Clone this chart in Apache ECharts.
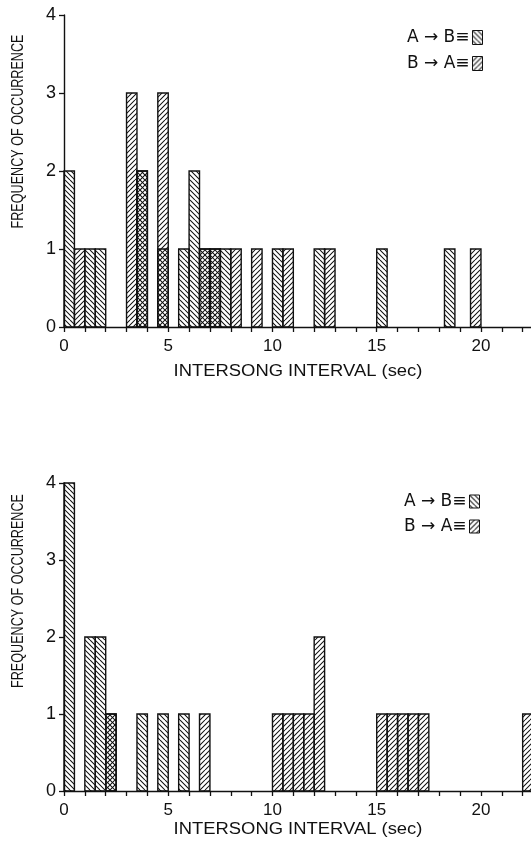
<!DOCTYPE html>
<html>
<head>
<meta charset="utf-8">
<script src="https://cdn.jsdelivr.net/npm/echarts@6/dist/echarts.min.js"></script>
<style>
html,body{margin:0;padding:0;background:#fff;}
#chart{width:531px;height:850px;}
</style>
</head>
<body>
<div id="chart"></div>
<script>
// ---- data (bin start in sec, frequency), bins are 0.5 sec wide ----
const binWidth = 0.5;
const topAB_start = [0, 1, 1.5, 3.5, 4.5, 5.5, 6, 6.5, 7, 7.5, 10, 12, 15, 18.25];
const topAB_count = [2, 1, 1, 2, 1, 1, 2, 1, 1, 1, 1, 1, 1, 1];
const topBA_start = [0.5, 3, 3.5, 4.5, 6.5, 7, 8, 9, 10.5, 12.5, 19.5];
const topBA_count = [1, 3, 2, 3, 1, 1, 1, 1, 1, 1, 1];
const botAB_start = [0, 1, 1.5, 2, 3.5, 4.5, 5.5];
const botAB_count = [4, 2, 2, 1, 1, 1, 1];
const botBA_start = [2, 6.5, 10, 10.5, 11, 11.5, 12, 15, 15.5, 16, 16.5, 17, 22];
const botBA_count = [1, 1, 1, 1, 1, 1, 2, 1, 1, 1, 1, 1, 1];
const xTickLabels = ['0', '5', '10', '15', '20'];
const yTickLabels = ['0', '1', '2', '3', '4'];
const nameAB = 'A \u2192 B\u2261';
const nameBA = 'B \u2192 A\u2261';
const xTitle = 'INTERSONG INTERVAL (sec)';
const yTitle = 'FREQUENCY OF OCCURRENCE';

function hatch(dir) {
  const s = 10, sp = 5;
  const c = document.createElement('canvas');
  c.width = s; c.height = s;
  const g = c.getContext('2d');
  g.strokeStyle = '#111';
  g.lineWidth = 1.05;
  g.beginPath();
  for (let o = -s; o <= s; o += sp) {
    if (dir === 'back') { g.moveTo(o, 0); g.lineTo(o + s, s); }
    else { g.moveTo(o, s); g.lineTo(o + s, 0); }
  }
  g.stroke();
  return c;
}
const patAB = { image: hatch('back'), repeat: 'repeat' };
const patBA = { image: hatch('fwd'), repeat: 'repeat' };

function pairs(st, ct) { return st.map((s, i) => [s, ct[i]]); }

function renderBin(pattern) {
  return function (params, api) {
    const x0 = api.value(0), h = api.value(1);
    const p0 = api.coord([x0, h]);
    const p1 = api.coord([x0 + binWidth, 0]);
    return {
      type: 'rect',
      shape: { x: p0[0], y: p0[1], width: p1[0] - p0[0], height: p1[1] - p0[1] },
      style: { fill: pattern, stroke: '#111', lineWidth: 1.4 }
    };
  };
}

const FONT = '"Liberation Sans", Arial, sans-serif';
const LFONT = '"DejaVu Sans", "Liberation Sans", sans-serif';

function xAxisCfg(idx) {
  return {
    type: 'value', gridIndex: idx, min: 0, max: 22.4, interval: 1,
    axisLine: { show: true, onZero: false, lineStyle: { color: '#111', width: 1.4 } },
    axisTick: { show: true, length: 5, lineStyle: { color: '#111', width: 1.3 } },
    axisLabel: {
      color: '#111', fontSize: 17, fontFamily: FONT, margin: 11, showMaxLabel: false,
      formatter: v => { const k = xTickLabels.indexOf(String(v)); return k >= 0 ? xTickLabels[k] : ''; }
    },
    splitLine: { show: false }
  };
}
function yAxisCfg(idx) {
  return {
    type: 'value', gridIndex: idx, min: 0, max: 4, interval: 1,
    axisLine: { show: true, lineStyle: { color: '#111', width: 1.4 } },
    axisTick: { show: true, length: 5, lineStyle: { color: '#111', width: 1.3 } },
    axisLabel: {
      color: '#111', fontSize: 18, fontFamily: FONT, margin: 8,
      formatter: v => yTickLabels[Math.round(v)]
    },
    splitLine: { show: false }
  };
}

function series(name, data, pattern, idx) {
  return {
    type: 'custom', name: name, xAxisIndex: idx, yAxisIndex: idx,
    data: data, encode: { x: 0, y: 1 },
    itemStyle: { color: pattern, borderColor: '#111', borderWidth: 1 },
    renderItem: renderBin(pattern), animation: false
  };
}

const chart = echarts.init(document.getElementById('chart'), null, { renderer: 'canvas' });
chart.setOption({
  animation: false,
  backgroundColor: '#fff',
  grid: [
    { left: 64, right: 0, top: 15, height: 312 },
    { left: 64, right: 0, top: 483, height: 308 }
  ],
  xAxis: [xAxisCfg(0), xAxisCfg(1)],
  yAxis: [yAxisCfg(0), yAxisCfg(1)],
  legend: [
    { orient: 'vertical', right: 48, top: 29, padding: 0, align: 'right', itemWidth: 10, itemHeight: 14, itemGap: 9,
      icon: 'rect', data: [nameAB, nameBA], selectedMode: false,
      itemStyle: { borderColor: '#111', borderWidth: 1 },
      textStyle: { color: '#111', fontSize: 17, fontFamily: LFONT, padding: [0, -2, 0, 0] } },
    { orient: 'vertical', right: 51, top: 493, padding: 0, align: 'right', itemWidth: 10, itemHeight: 13, itemGap: 8,
      icon: 'rect', data: [nameAB, nameBA], selectedMode: false,
      itemStyle: { borderColor: '#111', borderWidth: 1 },
      textStyle: { color: '#111', fontSize: 17, fontFamily: LFONT, padding: [0, -2, 0, 0] } }
  ],
  graphic: [
    { type: 'text', x: 298, y: 372, scaleX: 1.15, style: { text: xTitle, font: '16px ' + FONT, fill: '#111', align: 'center', verticalAlign: 'middle' } },
    { type: 'text', x: 298, y: 830, scaleX: 1.15, style: { text: xTitle, font: '16px ' + FONT, fill: '#111', align: 'center', verticalAlign: 'middle' } },
    { type: 'text', x: 18.5, y: 131.5, rotation: Math.PI / 2, scaleX: 0.84, scaleY: 1.05, style: { text: yTitle, font: '15px ' + FONT, fill: '#111', align: 'center', verticalAlign: 'middle' } },
    { type: 'text', x: 18.5, y: 591, rotation: Math.PI / 2, scaleX: 0.84, scaleY: 1.05, style: { text: yTitle, font: '15px ' + FONT, fill: '#111', align: 'center', verticalAlign: 'middle' } }
  ],
  series: [
    series(nameAB, pairs(topAB_start, topAB_count), patAB, 0),
    series(nameBA, pairs(topBA_start, topBA_count), patBA, 0),
    series(nameAB, pairs(botAB_start, botAB_count), patAB, 1),
    series(nameBA, pairs(botBA_start, botBA_count), patBA, 1)
  ]
});
</script>
</body>
</html>
